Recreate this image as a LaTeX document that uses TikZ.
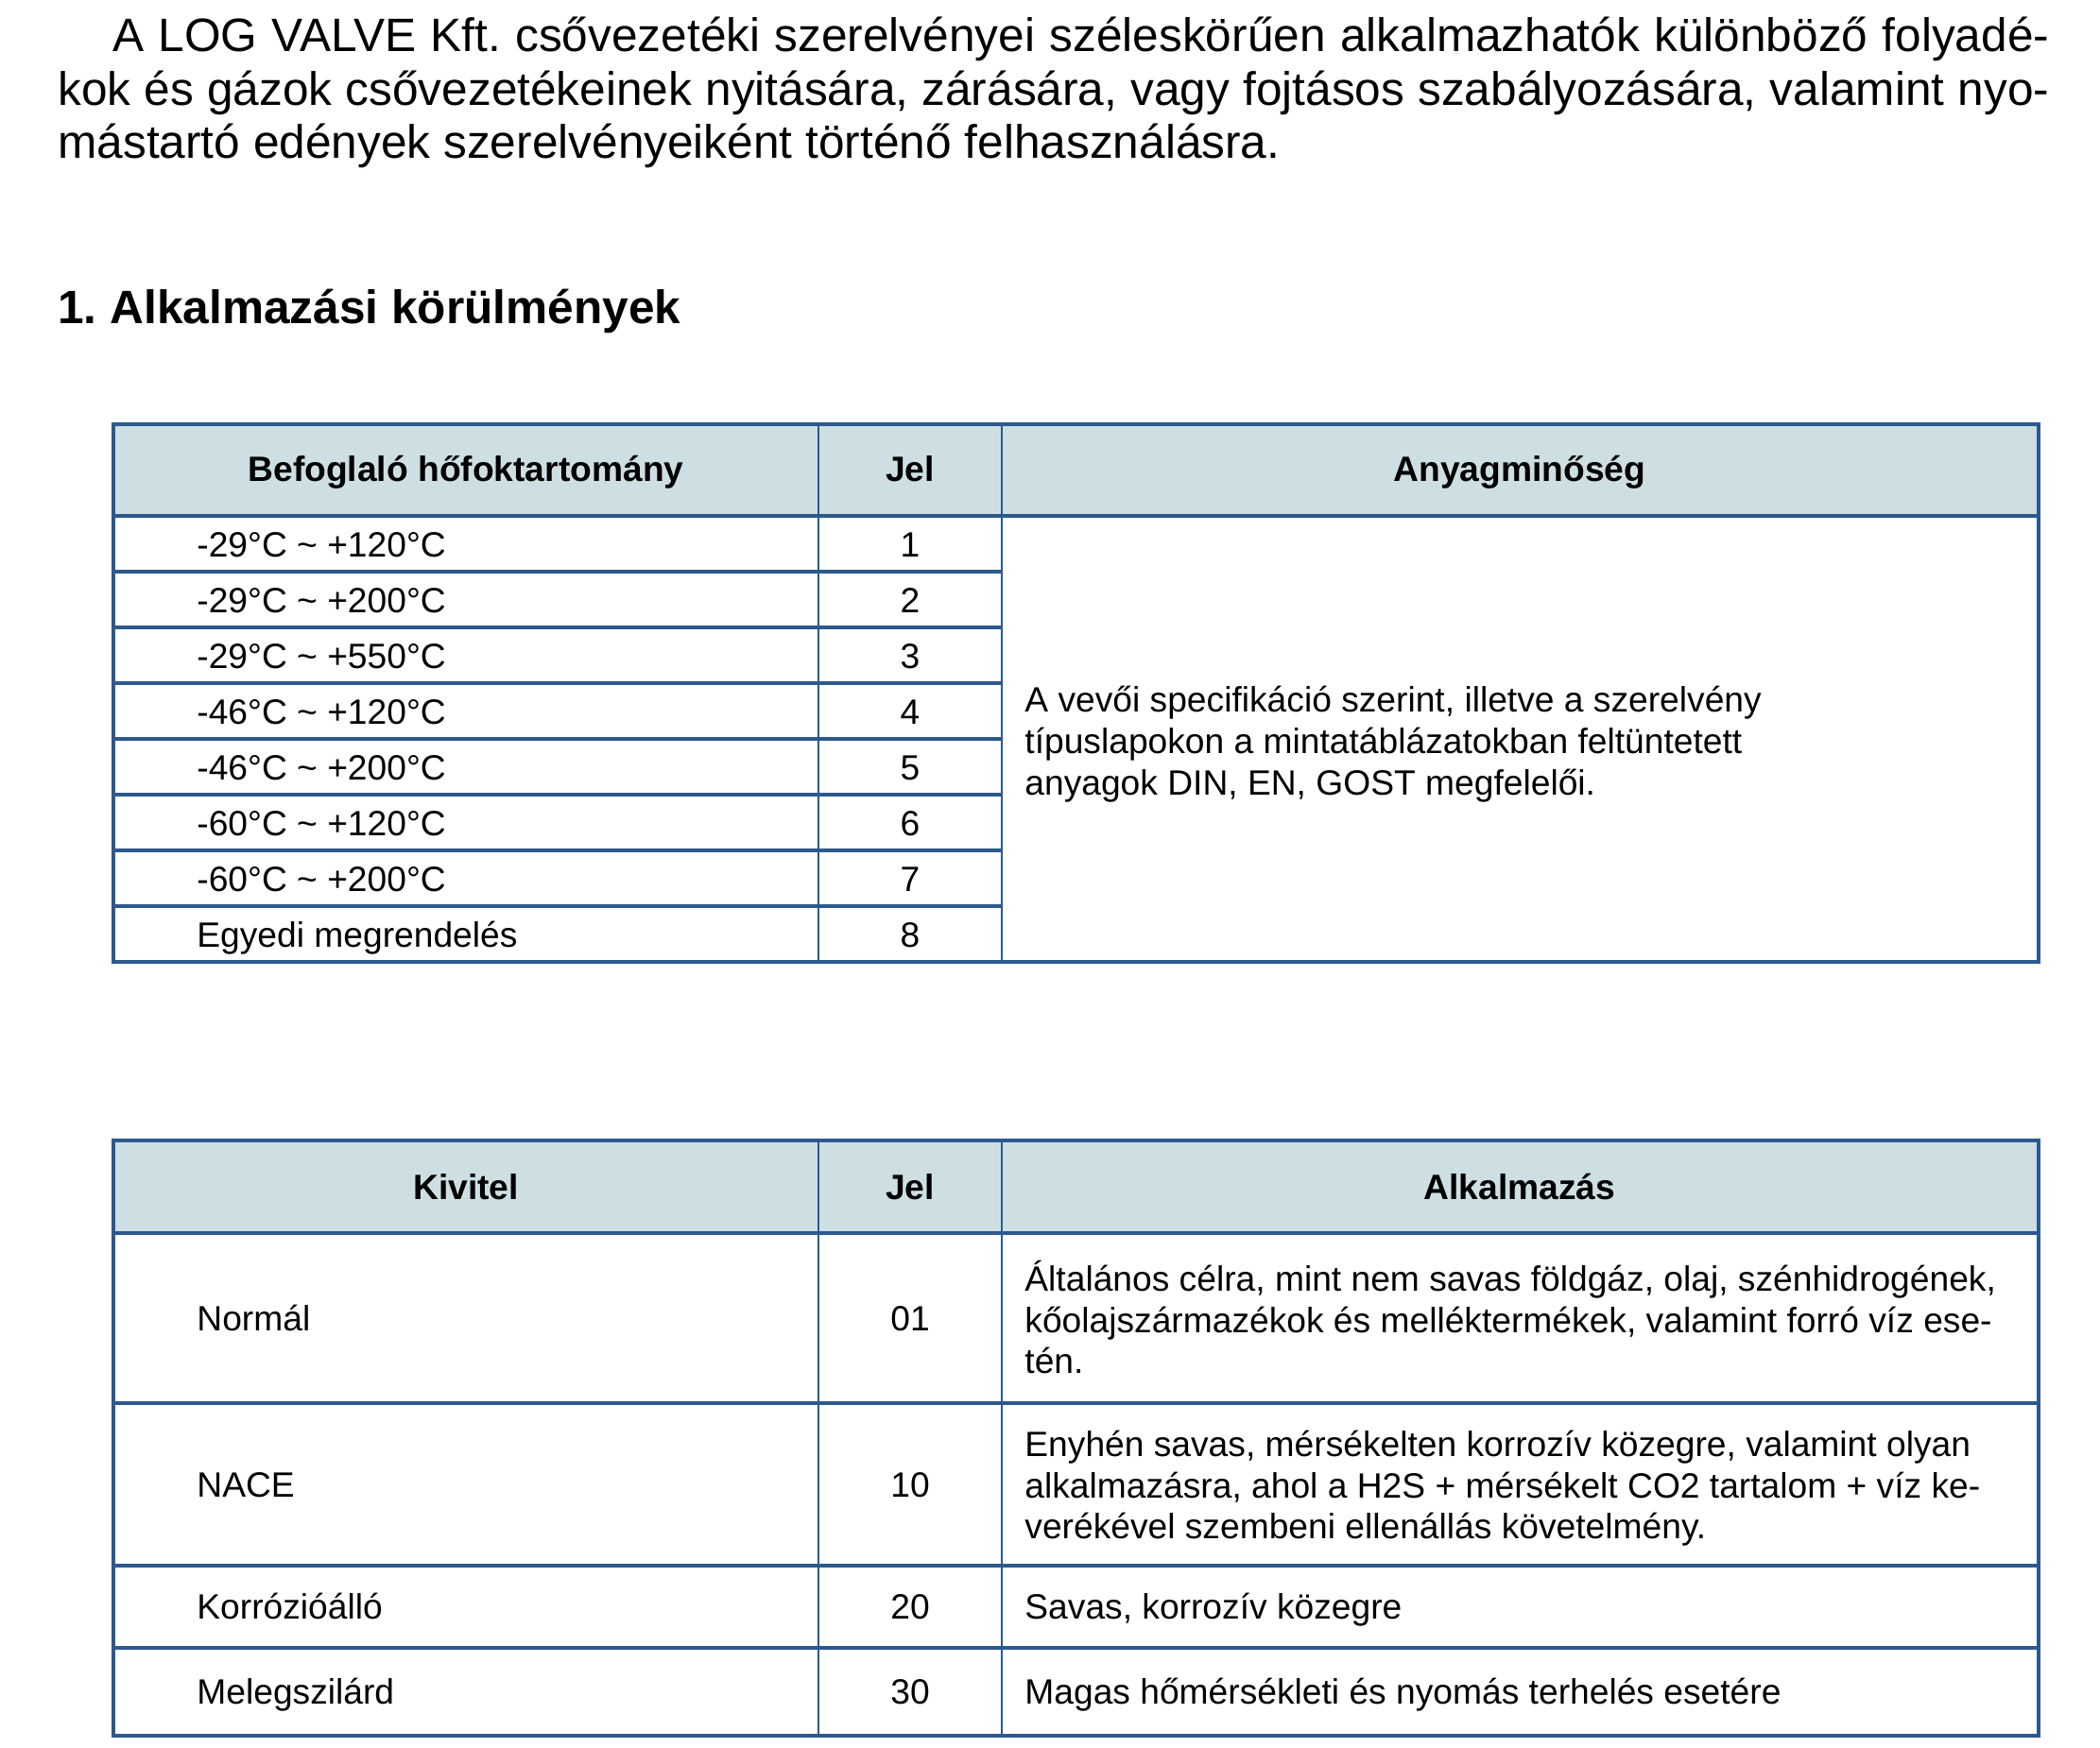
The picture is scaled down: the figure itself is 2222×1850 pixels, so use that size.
\documentclass[tikz,border=0pt]{standalone}
\usepackage{fontspec}
\setmainfont{Liberation Sans}
\frenchspacing
\definecolor{tblue}{RGB}{44,89,142}
\definecolor{thead}{RGB}{205,223,227}
\tikzset{
 bodytxt/.style={anchor=base west, inner sep=0pt, font=\fontsize{24.8}{28.4}\selectfont},
 titletxt/.style={anchor=base west, inner sep=0pt, font=\fontsize{24.8}{28.4}\selectfont\bfseries},
 headtxt/.style={anchor=base, inner sep=0pt, font=\fontsize{18.6}{22}\selectfont\bfseries},
 celltxt/.style={anchor=base west, inner sep=0pt, font=\fontsize{18.6}{22}\selectfont},
 numtxt/.style={anchor=base, inner sep=0pt, font=\fontsize{18.6}{22}\selectfont},
 outerline/.style={draw=tblue, line width=2pt},
 rowline/.style={draw=tblue, line width=1.7pt},
 colline/.style={draw=tblue, line width=1pt},
}
\begin{document}
\begin{tikzpicture}[x=0.5pt,y=-0.5pt]
\useasboundingbox (0,0) rectangle (2222,1850);
\fill[white] (0,0) rectangle (2222,1850);
% paragraph
\node[bodytxt] (p1) at (119,55) {\makebox[1024.5pt][s]{A LOG VALVE Kft. csővezetéki szerelvényei széleskörűen alkalmazhatók különböző folyadé-}};
\node[bodytxt] (p2) at (61,112) {\makebox[1053.5pt][s]{kok és gázok csővezetékeinek nyitására, zárására, vagy fojtásos szabályozására, valamint nyo-}};
\node[bodytxt] (p3) at (61,168) {mástartó edények szerelvényeiként történő felhasználásra.};
\node[titletxt] (title) at (61,343) {1. Alkalmazási körülmények};
% table 1
\fill[thead] (120,449) rectangle (2157,546);
\foreach \y in {605,664,723,782,841,900,959} \draw[rowline] (120,\y) -- (1060,\y);
\draw[colline] (866,449) -- (866,1018);
\draw[colline] (1060,449) -- (1060,1018);
\draw[outerline] (120,546) -- (2157,546);
\draw[outerline] (120,449) rectangle (2157,1018);
\node[headtxt] (h1a) at (493,510) {Befoglaló hőfoktartomány};
\node[headtxt] (h1b) at (963,510) {Jel};
\node[headtxt] (h1c) at (1608,510) {Anyagminőség};
\foreach \t/\n [count=\i from 0] in {-29°C \textasciitilde{} +120°C/1, -29°C \textasciitilde{} +200°C/2, -29°C \textasciitilde{} +550°C/3, -46°C \textasciitilde{} +120°C/4, -46°C \textasciitilde{} +200°C/5, -60°C \textasciitilde{} +120°C/6, -60°C \textasciitilde{} +200°C/7, Egyedi megrendelés/8} {
  \node[celltxt] (ra\n) at (208,589+59*\i) {\t};
  \node[numtxt] (rb\n) at (963,589+59*\i) {\n};
}
\node[celltxt] (mat1) at (1084,753) {A vevői specifikáció szerint, illetve a szerelvény};
\node[celltxt] (mat2) at (1084,797) {típuslapokon a mintatáblázatokban feltüntetett};
\node[celltxt] (mat3) at (1084,841) {anyagok DIN, EN, GOST megfelelői.};
% table 2
\fill[thead] (120,1207) rectangle (2157,1305);
\foreach \y in {1485,1657,1744} \draw[rowline] (120,\y) -- (2157,\y);
\draw[colline] (866,1207) -- (866,1837);
\draw[colline] (1060,1207) -- (1060,1837);
\draw[outerline] (120,1305) -- (2157,1305);
\draw[outerline] (120,1207) rectangle (2157,1837);
\node[headtxt] (h2a) at (493,1269) {Kivitel};
\node[headtxt] (h2b) at (963,1269) {Jel};
\node[headtxt] (h2c) at (1608,1269) {Alkalmazás};
\node[celltxt] (k1) at (208,1408) {Normál};
\node[numtxt] (j1) at (963,1408) {01};
\node[celltxt] (a1a) at (1084,1366) {Általános célra, mint nem savas földgáz, olaj, szénhidrogének,};
\node[celltxt] (a1b) at (1084,1410) {kőolajszármazékok és melléktermékek, valamint forró víz ese-};
\node[celltxt] (a1c) at (1084,1453) {tén.};
\node[celltxt] (k2) at (208,1584) {NACE};
\node[numtxt] (j2) at (963,1584) {10};
\node[celltxt] (a2a) at (1084,1541) {Enyhén savas, mérsékelten korrozív közegre, valamint olyan};
\node[celltxt] (a2b) at (1084,1585) {alkalmazásra, ahol a H2S + mérsékelt CO2 tartalom + víz ke-};
\node[celltxt] (a2c) at (1084,1628) {verékével szembeni ellenállás követelmény.};
\node[celltxt] (k3) at (208,1713) {Korrózióálló};
\node[numtxt] (j3) at (963,1713) {20};
\node[celltxt] (a3) at (1084,1713) {Savas, korrozív közegre};
\node[celltxt] (k4) at (208,1803) {Melegszilárd};
\node[numtxt] (j4) at (963,1803) {30};
\node[celltxt] (a4) at (1084,1803) {Magas hőmérsékleti és nyomás terhelés esetére};
\end{tikzpicture}
\end{document}
